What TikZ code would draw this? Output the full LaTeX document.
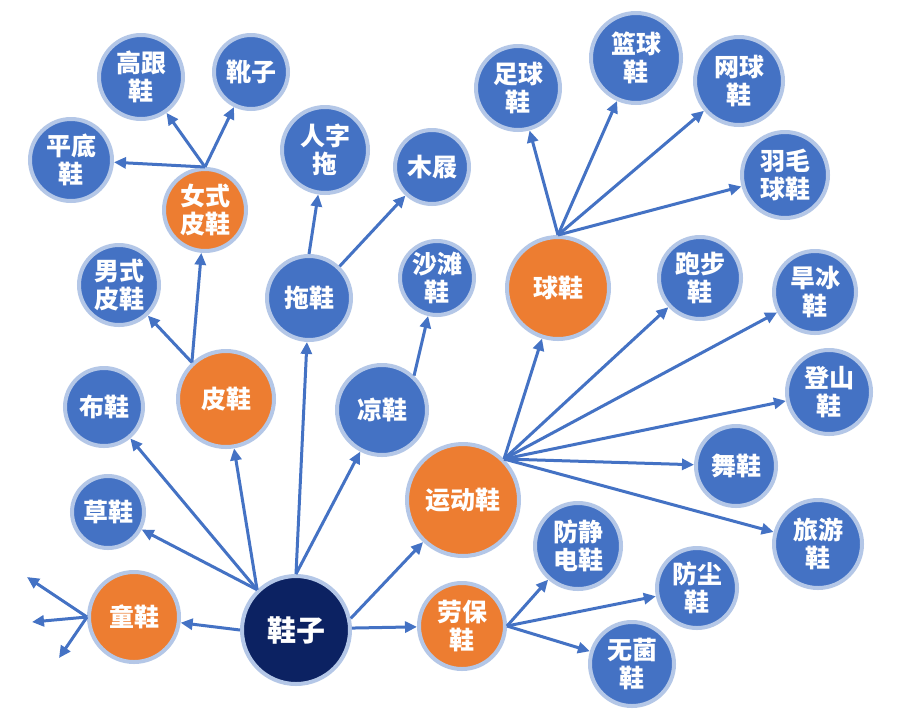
\documentclass[tikz,border=0pt]{standalone}
\usepackage{fontspec}
\setmainfont{Noto Sans CJK SC}
\usetikzlibrary{arrows.meta}
\definecolor{cblue}{HTML}{4472C4}
\definecolor{corange}{HTML}{ED7D31}
\definecolor{cnavy}{HTML}{0C2262}
\definecolor{cring}{HTML}{B4C7E7}
\definecolor{cline}{HTML}{4472C4}
\begin{document}
\begin{tikzpicture}[x=1pt,y=-1pt,
  bub/.style={circle, draw=cring, line width=4pt, text=white,
    font=\fontsize{25}{28}\selectfont\bfseries, align=center, inner sep=0pt, minimum size=#1},
  bnode/.style={bub=#1, fill=cblue},
  onode/.style={bub=#1, fill=corange},
  nnode/.style={bub=#1, fill=cnavy, font=\fontsize{29}{32}\selectfont\bfseries},
  arr/.style={draw=cline, line width=3pt, -{Triangle[length=12pt,width=11pt]}}]
\useasboundingbox[fill=white] (0,0) rectangle (901,716);
% nodes
\node[nnode=108] (xz) at (296,630) {鞋子};
\node[onode=90] (tx) at (134,617) {童鞋};
\node[bnode=72] (cx) at (108,512) {草鞋};
\node[bnode=78] (bx) at (104,407) {布鞋};
\node[onode=96] (px) at (226,399) {皮鞋};
\node[bnode=80] (nan) at (119,285) {男式\\皮鞋};
\node[onode=82] (nv) at (205,210) {女式\\皮鞋};
\node[bnode=82] (pd) at (71,160) {平底\\鞋};
\node[bnode=84] (gg) at (141,77) {高跟\\鞋};
\node[bnode=74] (xue) at (251,72) {靴子};
\node[bnode=86] (rzt) at (325,150) {人字\\拖};
\node[bnode=74] (mj) at (432,167) {木屐};
\node[bnode=84] (tuo) at (309,298) {拖鞋};
\node[bnode=74] (st) at (437,278) {沙滩\\鞋};
\node[bnode=90] (lx) at (382,410) {凉鞋};
\node[onode=112] (yd) at (463,500) {运动鞋};
\node[onode=102] (qx) at (558,288) {球鞋};
\node[bnode=84] (zq) at (518,88) {足球\\鞋};
\node[bnode=90] (lq) at (636,58) {篮球\\鞋};
\node[bnode=88] (wq) at (739,81) {网球\\鞋};
\node[bnode=86] (ym) at (785,175) {羽毛\\球鞋};
\node[bnode=82] (pb) at (700,278) {跑步\\鞋};
\node[bnode=82] (hb) at (815,292) {旱冰\\鞋};
\node[bnode=84] (ds) at (829,392) {登山\\鞋};
\node[bnode=80] (wx) at (736,466) {舞鞋};
\node[bnode=88] (ly) at (818,544) {旅游\\鞋};
\node[onode=86] (lb) at (462,626) {劳保\\鞋};
\node[bnode=86] (fj) at (578,546) {防静\\电鞋};
\node[bnode=80] (fc) at (697,588) {防尘\\鞋};
\node[bnode=84] (wj) at (632,664) {无菌\\鞋};
\coordinate (c1) at (27,577);
\coordinate (c2) at (32,622);
\coordinate (c3) at (59,658);
% edges
\draw[arr] (xz.180) -- (tx);
\draw[arr] (xz.134) -- (cx);
\draw[arr] (xz.134) -- (bx);
\draw[arr] (xz.134) -- (px);
\draw[arr] (xz.90) -- (tuo);
\draw[arr] (xz.90) -- (lx);
\draw[arr] (xz.12) -- (yd);
\draw[arr] (xz.2) -- (lb);
\draw[arr] (tx.180) -- (c1);
\draw[arr] (tx.180) -- (c2);
\draw[arr] (tx.180) -- (c3);
\draw[arr] (px.133) -- (nan);
\draw[arr] (px.133) -- (nv);
\draw[arr] (nv.90) -- (pd);
\draw[arr] (nv.90) -- (gg);
\draw[arr] (nv.90) -- (xue);
\draw[arr] (tuo.90) -- (rzt);
\draw[arr] (tuo.46) -- (mj);
\draw[arr] (lx.47) -- (st);
\draw[arr] (yd.45) -- (qx);
\draw[arr] (yd.45) -- (pb);
\draw[arr] (yd.45) -- (hb);
\draw[arr] (yd.45) -- (ds);
\draw[arr] (yd.45) -- (wx);
\draw[arr] (yd.45) -- (ly);
\draw[arr] (qx.90) -- (zq);
\draw[arr] (qx.90) -- (lq);
\draw[arr] (qx.90) -- (wq);
\draw[arr] (qx.90) -- (ym);
\draw[arr] (lb.0) -- (fj);
\draw[arr] (lb.0) -- (fc);
\draw[arr] (lb.0) -- (wj);
\end{tikzpicture}
\end{document}
